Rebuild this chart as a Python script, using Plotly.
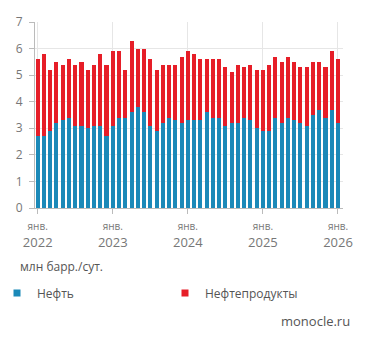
import plotly.graph_objects as go

months = list(range(49))  # Jan 2022 .. Jan 2026
oil = [2.7, 2.7, 2.9, 3.2, 3.3, 3.4, 3.1, 3.1, 3.0, 3.1, 3.1, 2.7,
       3.1, 3.4, 3.4, 3.6, 3.8, 3.6, 3.1, 2.9, 3.2, 3.4, 3.3, 3.2,
       3.3, 3.3, 3.3, 3.6, 3.4, 3.4, 3.1, 3.2, 3.2, 3.4, 3.3, 3.0,
       2.9, 2.9, 3.4, 3.2, 3.4, 3.3, 3.2, 3.1, 3.5, 3.7, 3.4, 3.7,
       3.2]
total = [5.6, 5.8, 5.2, 5.5, 5.4, 5.6, 5.4, 5.5, 5.2, 5.4, 5.8, 5.4,
         5.9, 5.9, 5.2, 6.3, 6.0, 6.0, 5.6, 5.2, 5.4, 5.4, 5.4, 5.7,
         5.9, 5.8, 5.6, 5.6, 5.6, 5.6, 5.3, 5.1, 5.4, 5.3, 5.4, 5.2,
         5.2, 5.4, 5.7, 5.5, 5.7, 5.5, 5.3, 5.3, 5.5, 5.5, 5.3, 5.9,
         5.6]
products = [round(t - o, 2) for t, o in zip(total, oil)]
tick_pos = [0, 12, 24, 36, 48]
tick_text = ["<span style='font-size:10px'>янв.</span><br>" + y
             for y in ["2022", "2023", "2024", "2025", "2026"]]

BLUE = "#1b89b8"
RED = "#e61e28"
GRAY = "#777777"
FONT = "Open Sans"

pw = 371 - 35 - 28
ph = 343 - 22 - 135

fig = go.Figure()
fig.add_trace(go.Bar(x=months, y=oil, name="Нефть", marker_color=BLUE,
                     marker_line_width=0, showlegend=False))
fig.add_trace(go.Bar(x=months, y=products, name="Нефтепродукты",
                     marker_color=RED, marker_line_width=0, showlegend=False))
# legend entries with small square markers
fig.add_trace(go.Scatter(x=[None], y=[None], mode="markers", name="Нефть",
                         marker=dict(symbol="square", size=7, color=BLUE),
                         legend="legend"))
fig.add_trace(go.Scatter(x=[None], y=[None], mode="markers", name="Нефтепродукты",
                         marker=dict(symbol="square", size=7, color=RED),
                         legend="legend2"))

leg_common = dict(orientation="h", xanchor="left", yanchor="middle",
                  font=dict(size=12, color="#555555"), itemwidth=30,
                  bgcolor="rgba(0,0,0,0)")

fig.update_layout(
    width=371, height=343,
    barmode="stack", bargap=0.35,
    plot_bgcolor="white", paper_bgcolor="white",
    margin=dict(l=35, r=28, t=22, b=135, autoexpand=False),
    font=dict(family=FONT, color=GRAY, size=12),
    showlegend=True,
    legend=dict(x=(-3 - 35) / pw, y=(208 - 293) / ph, **leg_common),
    legend2=dict(x=(165 - 35) / pw, y=(208 - 293) / ph, **leg_common),
    annotations=[
        dict(text="млн барр./сут.", xref="paper", yref="paper",
             x=(18 - 35) / pw, y=(208 - 266) / ph, xanchor="left",
             yanchor="middle", showarrow=False,
             font=dict(size=12, color="#555555")),
        dict(text="monocle.ru", xref="paper", yref="paper",
             x=(352 - 35) / pw, y=(208 - 321) / ph, xanchor="right",
             yanchor="middle", showarrow=False,
             font=dict(size=13, color="#555555")),
    ],
)

fig.update_xaxes(range=[-0.43, 48.8], tickmode="array", tickvals=tick_pos,
                 ticktext=tick_text, showgrid=True, gridcolor="#e6e6e6",
                 showline=True, linecolor="#bbbbbb", ticks="outside",
                 ticklen=5, tickcolor="#bbbbbb", tickfont=dict(size=13, color=GRAY),
                 zeroline=False)
fig.update_yaxes(range=[0, 7], dtick=1, showgrid=True, gridcolor="#e6e6e6",
                 showline=True, linecolor="#bbbbbb", ticks="outside",
                 ticklen=5, tickcolor="#bbbbbb", tickfont=dict(size=12, color=GRAY),
                 ticklabelstandoff=4, zeroline=False)

fig.write_html("out.html")
